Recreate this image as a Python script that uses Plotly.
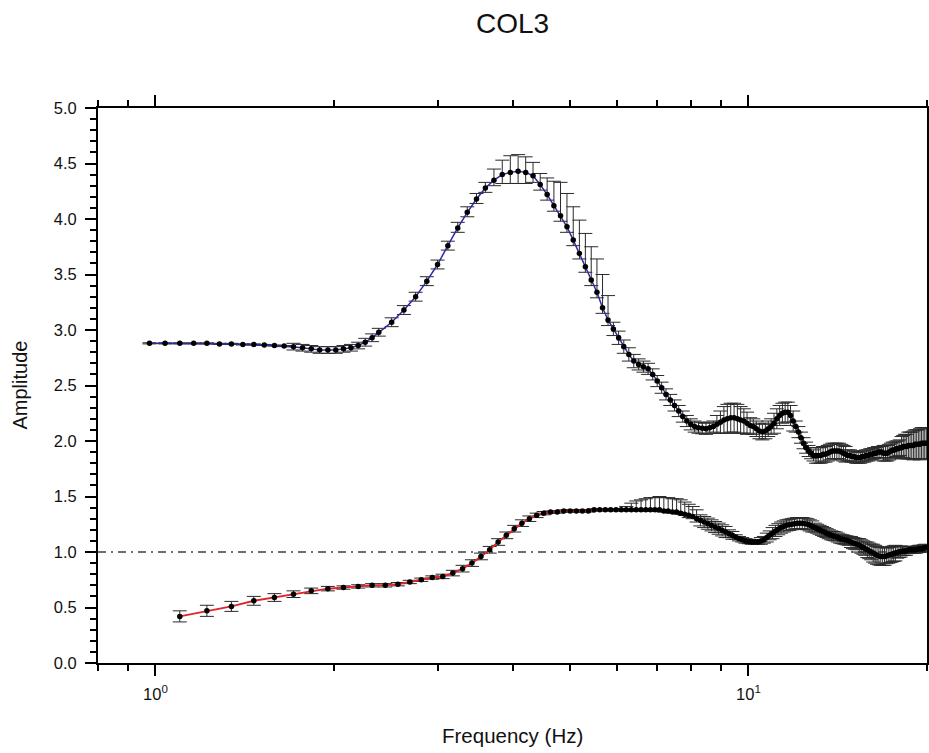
import plotly.graph_objects as go

# ---- Upper spectral ratio curve (blue line) ----
f_upper = [
    0.977, 1.038, 1.099, 1.160, 1.221, 1.282, 1.343, 1.404, 1.465, 1.526,
    1.587, 1.648, 1.709, 1.770, 1.831, 1.892, 1.953, 2.014, 2.075, 2.136,
    2.197, 2.258, 2.319, 2.380,
    2.502, 2.624, 2.746, 2.868, 2.990, 3.112, 3.234, 3.356, 3.478, 3.600,
    3.722, 3.844, 3.966, 4.088, 4.210, 4.332, 4.454, 4.576, 4.698, 4.820,
    4.942, 5.064, 5.186, 5.308, 5.430, 5.552, 5.674, 5.796, 5.918, 6.040,
    6.162, 6.284, 6.406, 6.528, 6.650, 6.772, 6.894, 7.016, 7.138, 7.260,
    7.382, 7.504, 7.626, 7.748, 7.870, 7.992,
    8.114, 8.236, 8.358, 8.480, 8.602, 8.724, 8.846, 8.968, 9.090, 9.212,
    9.334, 9.456, 9.578, 9.700, 9.822, 9.944, 10.066, 10.188, 10.310, 10.432,
    10.554, 10.676, 10.798, 10.920, 11.042, 11.164, 11.286, 11.408, 11.530, 11.652,
    11.774, 11.896, 12.018, 12.140, 12.262, 12.384, 12.506, 12.628, 12.750, 12.872,
    12.994, 13.116, 13.238, 13.360, 13.482, 13.604, 13.726, 13.848, 13.970, 14.092,
    14.214, 14.336, 14.458, 14.580, 14.702, 14.824, 14.946, 15.068, 15.190, 15.312,
    15.434, 15.556, 15.678, 15.800, 15.922, 16.044, 16.166, 16.288, 16.410, 16.532,
    16.654, 16.776, 16.898, 17.020, 17.142, 17.264, 17.386, 17.508, 17.630, 17.752,
    17.874, 17.996, 18.118, 18.240, 18.362, 18.484, 18.606, 18.728, 18.850, 18.972,
    19.094, 19.216, 19.338, 19.460, 19.582, 19.704, 19.826, 19.948,
]
amp_upper = [
    2.88, 2.88, 2.88, 2.88, 2.88, 2.875, 2.875, 2.87, 2.87, 2.865,
    2.86, 2.855, 2.85, 2.84, 2.83, 2.82, 2.82, 2.82, 2.83, 2.84,
    2.86, 2.89, 2.93, 2.98,
    3.07, 3.18, 3.30, 3.44, 3.59, 3.76, 3.92, 4.06, 4.18, 4.28,
    4.35, 4.40, 4.42, 4.43, 4.42, 4.39, 4.31, 4.22, 4.12, 4.03,
    3.93, 3.81, 3.69, 3.57, 3.45, 3.34, 3.20, 3.09, 3.01, 2.93,
    2.85, 2.78, 2.72, 2.69, 2.67, 2.65, 2.60, 2.54, 2.48, 2.42,
    2.37, 2.32, 2.27, 2.22, 2.18, 2.15,
    2.13, 2.12, 2.115, 2.11, 2.12, 2.13, 2.15, 2.17, 2.19, 2.20,
    2.21, 2.21, 2.20, 2.19, 2.18, 2.16, 2.14, 2.13, 2.11, 2.09,
    2.08, 2.09, 2.11, 2.13, 2.16, 2.20, 2.23, 2.25, 2.26, 2.26,
    2.23, 2.18, 2.13, 2.08, 2.03, 1.98, 1.94, 1.91, 1.89, 1.87,
    1.87, 1.87, 1.87, 1.88, 1.88, 1.89, 1.90, 1.91, 1.91, 1.91,
    1.91, 1.90, 1.89, 1.88, 1.87, 1.87, 1.86, 1.86, 1.85, 1.85,
    1.85, 1.86, 1.86, 1.87, 1.87, 1.88, 1.88, 1.89, 1.89, 1.90,
    1.90, 1.90, 1.89, 1.89, 1.89, 1.90, 1.91, 1.92, 1.92, 1.93,
    1.93, 1.94, 1.94, 1.95, 1.95, 1.95, 1.96, 1.96, 1.96, 1.96,
    1.97, 1.97, 1.97, 1.97, 1.98, 1.98, 1.98, 1.98,
]
err_upper_plus = [
    0.005, 0.005, 0.005, 0.005, 0.005, 0.005, 0.005, 0.005, 0.005, 0.005,
    0.005, 0.005, 0.03, 0.03, 0.03, 0.03, 0.03, 0.03, 0.03, 0.03,
    0.03, 0.035, 0.035, 0.035,
    0.04, 0.04, 0.04, 0.04, 0.04, 0.04, 0.05, 0.05, 0.05, 0.05,
    0.10, 0.13, 0.15, 0.15, 0.14, 0.12, 0.10, 0.15, 0.22, 0.30,
    0.30, 0.30, 0.30, 0.30, 0.30, 0.30, 0.30, 0.22, 0.06, 0.06,
    0.06, 0.06, 0.06, 0.05, 0.05, 0.05, 0.05, 0.05, 0.05, 0.05,
    0.05, 0.05, 0.05, 0.05, 0.05, 0.05,
    0.05, 0.05, 0.05, 0.05, 0.05, 0.05, 0.08, 0.10, 0.12, 0.13,
    0.13, 0.13, 0.13, 0.12, 0.11, 0.10, 0.07, 0.07, 0.07, 0.07,
    0.07, 0.07, 0.07, 0.07, 0.09, 0.09, 0.09, 0.09, 0.09, 0.09,
    0.09, 0.09, 0.05, 0.05, 0.05, 0.05, 0.05, 0.05, 0.05, 0.05,
    0.07, 0.07, 0.07, 0.07, 0.07, 0.07, 0.07, 0.07, 0.07, 0.07,
    0.07, 0.07, 0.07, 0.07, 0.05, 0.05, 0.05, 0.05, 0.05, 0.05,
    0.05, 0.05, 0.05, 0.05, 0.05, 0.05, 0.05, 0.05, 0.05, 0.05,
    0.05, 0.05, 0.07, 0.07, 0.07, 0.07, 0.07, 0.07, 0.07, 0.07,
    0.07, 0.07, 0.10, 0.10, 0.11, 0.11, 0.12, 0.12, 0.12, 0.13,
    0.13, 0.13, 0.13, 0.14, 0.14, 0.14, 0.14, 0.14,
]
err_upper_minus = [
    0.005, 0.005, 0.005, 0.005, 0.005, 0.005, 0.005, 0.005, 0.005, 0.005,
    0.005, 0.005, 0.03, 0.03, 0.03, 0.03, 0.03, 0.03, 0.03, 0.03,
    0.03, 0.035, 0.035, 0.035,
    0.04, 0.04, 0.04, 0.04, 0.04, 0.04, 0.04, 0.04, 0.04, 0.04,
    0.05, 0.08, 0.10, 0.11, 0.10, 0.06, 0.05, 0.05, 0.05, 0.05,
    0.05, 0.05, 0.05, 0.05, 0.05, 0.05, 0.05, 0.05, 0.06, 0.06,
    0.06, 0.06, 0.06, 0.05, 0.05, 0.05, 0.05, 0.05, 0.05, 0.05,
    0.05, 0.05, 0.05, 0.05, 0.05, 0.05,
    0.05, 0.05, 0.05, 0.05, 0.05, 0.05, 0.08, 0.10, 0.12, 0.13,
    0.13, 0.13, 0.13, 0.12, 0.11, 0.10, 0.07, 0.07, 0.07, 0.07,
    0.07, 0.07, 0.07, 0.07, 0.09, 0.09, 0.09, 0.09, 0.09, 0.09,
    0.09, 0.09, 0.05, 0.05, 0.05, 0.05, 0.05, 0.05, 0.05, 0.05,
    0.07, 0.07, 0.07, 0.07, 0.07, 0.07, 0.07, 0.07, 0.07, 0.07,
    0.07, 0.07, 0.07, 0.07, 0.05, 0.05, 0.05, 0.05, 0.05, 0.05,
    0.05, 0.05, 0.05, 0.05, 0.05, 0.05, 0.05, 0.05, 0.05, 0.05,
    0.05, 0.05, 0.07, 0.07, 0.07, 0.07, 0.07, 0.07, 0.07, 0.07,
    0.07, 0.07, 0.10, 0.10, 0.11, 0.11, 0.12, 0.12, 0.12, 0.13,
    0.13, 0.13, 0.13, 0.14, 0.14, 0.14, 0.14, 0.14,
]

# ---- Lower spectral ratio curve (red line) ----
f_lower = [
    1.099, 1.221, 1.343, 1.465, 1.587, 1.709, 1.831, 1.953, 2.075, 2.197,
    2.319, 2.441, 2.563, 2.685, 2.807, 2.929, 3.051, 3.173, 3.295, 3.417,
    3.539, 3.661, 3.783, 3.905, 4.027, 4.149, 4.271, 4.393, 4.515, 4.637,
    4.759, 4.881, 5.003, 5.125, 5.247, 5.369, 5.491, 5.613, 5.735, 5.857,
    5.979, 6.101, 6.223, 6.345, 6.467, 6.589, 6.711, 6.833, 6.955, 7.077,
    7.199, 7.321, 7.443, 7.565, 7.687, 7.809, 7.931,
    8.053, 8.175, 8.297, 8.419, 8.541, 8.663, 8.785, 8.907, 9.029, 9.151,
    9.273, 9.395, 9.517, 9.639, 9.761, 9.883, 10.005, 10.127, 10.249, 10.371,
    10.493, 10.615, 10.737, 10.859, 10.981, 11.103, 11.225, 11.347, 11.469, 11.591,
    11.713, 11.835, 11.957, 12.079, 12.201, 12.323, 12.445, 12.567, 12.689, 12.811,
    12.933, 13.055, 13.177, 13.299, 13.421, 13.543, 13.665, 13.787, 13.909, 14.031,
    14.153, 14.275, 14.397, 14.519, 14.641, 14.763, 14.885, 15.007, 15.129, 15.251,
    15.373, 15.495, 15.617, 15.739, 15.861, 15.983, 16.105, 16.227, 16.349, 16.471,
    16.593, 16.715, 16.837, 16.959, 17.081, 17.203, 17.325, 17.447, 17.569, 17.691,
    17.813, 17.935, 18.057, 18.179, 18.301, 18.423, 18.545, 18.667, 18.789, 18.911,
    19.033, 19.155, 19.277, 19.399, 19.521, 19.643, 19.765, 19.887,
]
amp_lower = [
    0.42, 0.47, 0.51, 0.56, 0.59, 0.62, 0.65, 0.67, 0.68, 0.69,
    0.70, 0.70, 0.71, 0.73, 0.75, 0.77, 0.78, 0.81, 0.85, 0.90,
    0.96, 1.02, 1.09, 1.15, 1.21, 1.26, 1.30, 1.33, 1.35, 1.36,
    1.36, 1.37, 1.37, 1.37, 1.37, 1.37, 1.38, 1.38, 1.38, 1.38,
    1.38, 1.38, 1.38, 1.38, 1.38, 1.38, 1.38, 1.38, 1.38, 1.38,
    1.37, 1.37, 1.36, 1.36, 1.35, 1.34, 1.33,
    1.32, 1.30, 1.285, 1.27, 1.255, 1.24, 1.225, 1.21, 1.195, 1.18,
    1.165, 1.15, 1.135, 1.12, 1.11, 1.10, 1.095, 1.09, 1.09, 1.09,
    1.10, 1.11, 1.13, 1.15, 1.17, 1.19, 1.205, 1.22, 1.23, 1.24,
    1.245, 1.25, 1.255, 1.26, 1.26, 1.26, 1.255, 1.25, 1.24, 1.23,
    1.22, 1.21, 1.20, 1.19, 1.18, 1.17, 1.16, 1.15, 1.145, 1.14,
    1.13, 1.12, 1.115, 1.11, 1.105, 1.10, 1.09, 1.08, 1.075, 1.07,
    1.06, 1.05, 1.04, 1.03, 1.02, 1.01, 1.00, 0.99, 0.98, 0.97,
    0.965, 0.96, 0.96, 0.96, 0.965, 0.97, 0.975, 0.98, 0.985, 0.99,
    0.995, 1.00, 1.005, 1.01, 1.01, 1.01, 1.015, 1.02, 1.02, 1.02,
    1.02, 1.02, 1.025, 1.03, 1.03, 1.03, 1.035, 1.04,
]
err_lower_plus = [
    0.05, 0.05, 0.045, 0.04, 0.035, 0.03, 0.025, 0.02, 0.015, 0.015,
    0.015, 0.015, 0.015, 0.015, 0.015, 0.015, 0.02, 0.025, 0.03, 0.03,
    0.03, 0.03, 0.03, 0.03, 0.03, 0.03, 0.025, 0.02, 0.015, 0.01,
    0.01, 0.01, 0.01, 0.01, 0.01, 0.01, 0.01, 0.01, 0.01, 0.01,
    0.01, 0.01, 0.03, 0.06, 0.08, 0.09, 0.10, 0.11, 0.11, 0.12,
    0.12, 0.12, 0.12, 0.12, 0.12, 0.11, 0.10,
    0.09, 0.08, 0.05, 0.05, 0.05, 0.05, 0.05, 0.05, 0.05, 0.05,
    0.035, 0.035, 0.02, 0.02, 0.02, 0.02, 0.02, 0.02, 0.02, 0.02,
    0.03, 0.03, 0.04, 0.04, 0.05, 0.05, 0.05, 0.05, 0.05, 0.05,
    0.05, 0.05, 0.05, 0.05, 0.05, 0.05, 0.05, 0.05, 0.05, 0.05,
    0.04, 0.04, 0.04, 0.04, 0.04, 0.04, 0.04, 0.04, 0.04, 0.04,
    0.04, 0.04, 0.04, 0.04, 0.04, 0.04, 0.05, 0.05, 0.05, 0.05,
    0.06, 0.06, 0.06, 0.06, 0.07, 0.07, 0.07, 0.08, 0.08, 0.08,
    0.08, 0.08, 0.08, 0.08, 0.07, 0.07, 0.07, 0.07, 0.07, 0.07,
    0.05, 0.05, 0.05, 0.04, 0.04, 0.04, 0.03, 0.03, 0.03, 0.03,
    0.03, 0.03, 0.03, 0.03, 0.03, 0.03, 0.03, 0.03,
]
err_lower_minus = [
    0.05, 0.05, 0.045, 0.04, 0.035, 0.03, 0.025, 0.02, 0.015, 0.015,
    0.015, 0.015, 0.015, 0.015, 0.015, 0.015, 0.02, 0.025, 0.03, 0.03,
    0.03, 0.03, 0.03, 0.03, 0.03, 0.03, 0.025, 0.02, 0.015, 0.01,
    0.01, 0.01, 0.01, 0.01, 0.01, 0.01, 0.01, 0.01, 0.01, 0.01,
    0.01, 0.01, 0.01, 0.01, 0.01, 0.01, 0.01, 0.01, 0.01, 0.01,
    0.01, 0.01, 0.01, 0.01, 0.01, 0.01, 0.02,
    0.02, 0.03, 0.05, 0.05, 0.05, 0.05, 0.05, 0.05, 0.05, 0.05,
    0.035, 0.035, 0.02, 0.02, 0.02, 0.02, 0.02, 0.02, 0.02, 0.02,
    0.03, 0.03, 0.04, 0.04, 0.05, 0.05, 0.05, 0.05, 0.05, 0.05,
    0.05, 0.05, 0.05, 0.05, 0.05, 0.05, 0.05, 0.05, 0.05, 0.05,
    0.04, 0.04, 0.04, 0.04, 0.04, 0.04, 0.04, 0.04, 0.04, 0.04,
    0.04, 0.04, 0.04, 0.04, 0.04, 0.04, 0.05, 0.05, 0.05, 0.05,
    0.06, 0.06, 0.06, 0.06, 0.07, 0.07, 0.07, 0.08, 0.08, 0.08,
    0.08, 0.08, 0.08, 0.08, 0.07, 0.07, 0.07, 0.07, 0.07, 0.07,
    0.05, 0.05, 0.05, 0.04, 0.04, 0.04, 0.03, 0.03, 0.03, 0.03,
    0.03, 0.03, 0.03, 0.03, 0.03, 0.03, 0.03, 0.03,
]

x_tick_vals = [1, 10]
x_tick_text = ["10<sup>0</sup>", "10<sup>1</sup>"]
x_minor_vals = [0.8, 0.9, 2, 3, 4, 5, 6, 7, 8, 9, 20]
y_tick_vals = [0.0, 0.5, 1.0, 1.5, 2.0, 2.5, 3.0, 3.5, 4.0, 4.5, 5.0]
y_tick_text = ["0.0", "0.5", "1.0", "1.5", "2.0", "2.5", "3.0", "3.5", "4.0", "4.5", "5.0"]

FONT = "Liberation Sans, Arial, Helvetica, sans-serif"
INK = "#111111"


def err_bars(plus, minus):
    return dict(type="data", symmetric=False, array=plus, arrayminus=minus,
                color="#2a2a2a", thickness=1, width=7)


fig = go.Figure()

fig.add_trace(go.Scatter(
    x=f_upper, y=amp_upper, mode="lines+markers",
    line=dict(color="#2b2ba6", width=1.5),
    marker=dict(color="black", size=5.5),
    error_y=err_bars(err_upper_plus, err_upper_minus),
    showlegend=False,
))
fig.add_trace(go.Scatter(
    x=f_lower, y=amp_lower, mode="lines+markers",
    line=dict(color="#e3252b", width=2),
    marker=dict(color="black", size=5.5),
    error_y=err_bars(err_lower_plus, err_lower_minus),
    showlegend=False,
))

# reference level at amplitude 1
fig.add_shape(type="line", xref="paper", x0=0, x1=1, yref="y", y0=1, y1=1,
              line=dict(color="#6e6e6e", width=2, dash="8px,5px,2px,5px"),
              layer="below")

fig.update_layout(
    width=929, height=753,
    margin=dict(l=98, r=2, t=108, b=90, autoexpand=False),
    paper_bgcolor="white", plot_bgcolor="white",
    font=dict(family=FONT, color=INK, size=14),
    title=dict(text="COL3", x=0.5, xref="paper", y=1 - 23 / 753, yref="container",
               xanchor="center", yanchor="middle",
               font=dict(family=FONT, size=28, color=INK)),
    annotations=[
        dict(text="Frequency (Hz)", xref="paper", yref="paper", x=0.5,
             y=-(735 - 663) / 555, xanchor="center", yanchor="middle",
             showarrow=False, font=dict(family=FONT, size=20.5, color=INK)),
        dict(text="Amplitude", xref="paper", yref="paper",
             x=-(98 - 19) / 829, y=0.5, xanchor="center", yanchor="middle",
             textangle=-90, showarrow=False,
             font=dict(family=FONT, size=20, color=INK)),
    ],
)

fig.update_xaxes(
    type="log", range=[-0.09691, 1.30103],
    showgrid=False, zeroline=False,
    showline=True, linecolor="black", linewidth=2, mirror="ticks",
    ticks="outside", ticklen=11, tickwidth=1.5, tickcolor="black",
    tickmode="array", tickvals=x_tick_vals, ticktext=x_tick_text,
    tickfont=dict(family=FONT, size=16.5, color=INK),
    ticklabelstandoff=4,
    minor=dict(tickmode="array", tickvals=x_minor_vals, ticks="outside",
               ticklen=6, tickwidth=1.5, tickcolor="black", showgrid=False),
)
fig.update_yaxes(
    range=[0, 5], showgrid=False, zeroline=False,
    showline=True, linecolor="black", linewidth=2, mirror="ticks",
    ticks="outside", ticklen=11, tickwidth=1.5, tickcolor="black",
    tickmode="array", tickvals=y_tick_vals, ticktext=y_tick_text,
    tickfont=dict(family=FONT, size=16.5, color=INK),
    ticklabelstandoff=5,
    minor=dict(dtick=0.1, ticks="outside", ticklen=6, tickwidth=1.5,
               tickcolor="black", showgrid=False),
)

fig.write_html("out.html")
